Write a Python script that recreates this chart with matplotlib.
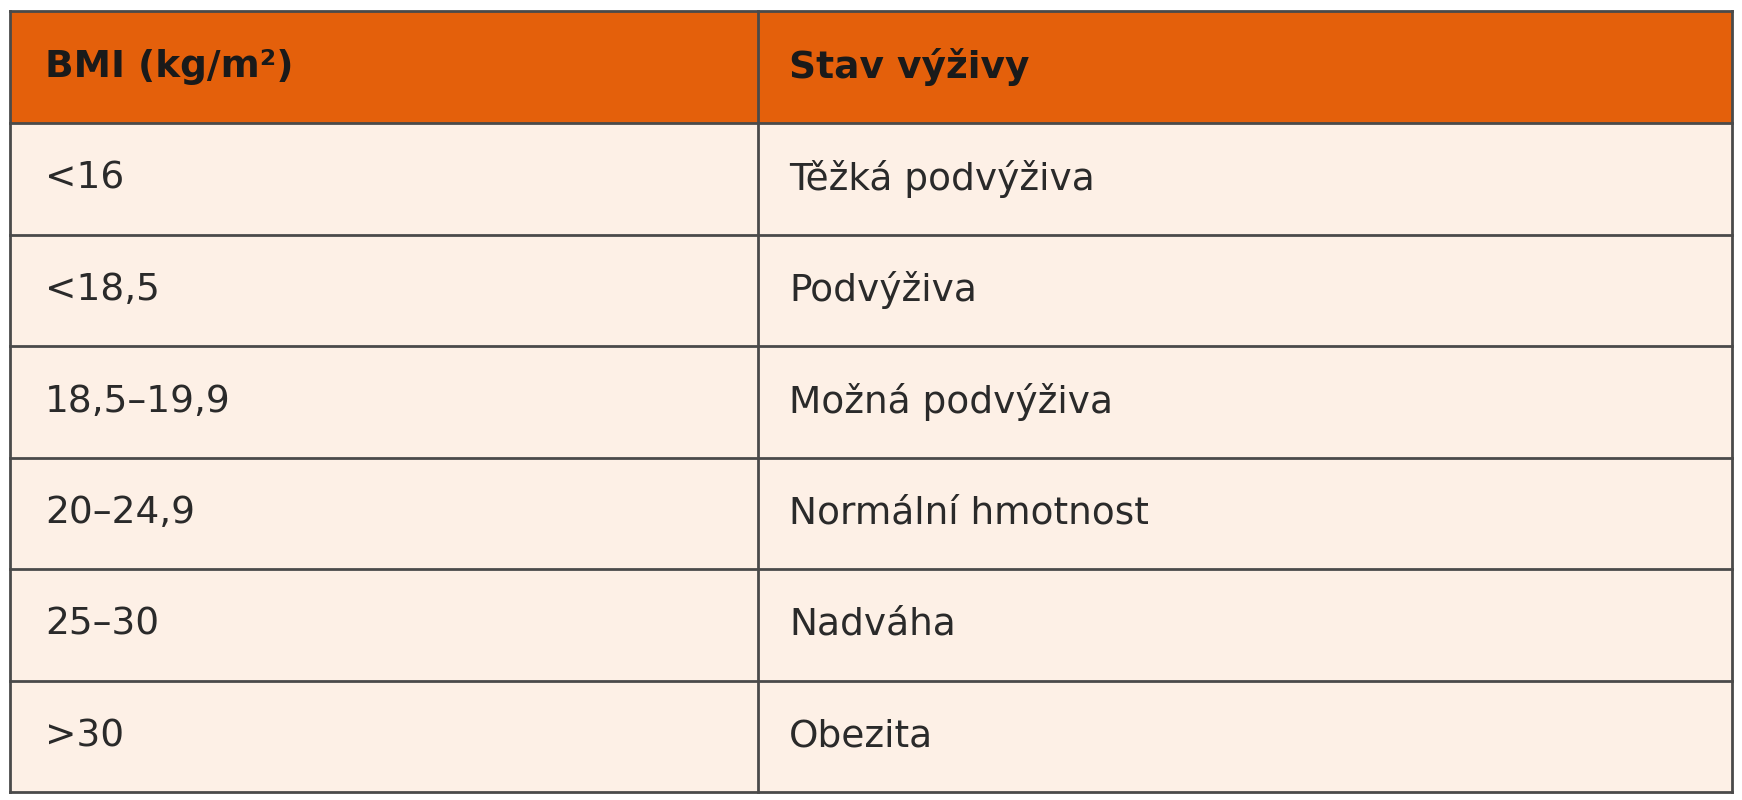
import matplotlib.pyplot as plt
from matplotlib.patches import Rectangle

headers = ['BMI (kg/m²)', 'Stav výživy']
bmi = ['<16', '<18,5', '18,5–19,9', '20–24,9', '25–30', '>30']
stav = ['Těžká podvýživa', 'Podvýživa', 'Možná podvýživa', 'Normální hmotnost', 'Nadváha', 'Obezita']

fig = plt.figure(figsize=(17.42, 8.0), dpi=100)
ax = fig.add_axes([0, 0, 1, 1])
ax.set_xlim(0, 1)
ax.set_ylim(1, 0)
ax.axis('off')

left, right, top, bottom = 0.006, 0.994, 0.014, 0.99
col = 0.435
head_bot = 0.154
row_h = (bottom - head_bot) / len(bmi)
edge = '#4a4a4a'

ax.add_patch(Rectangle((left, top), right - left, head_bot - top, facecolor='#E4600B', edgecolor='none'))
ax.add_patch(Rectangle((left, head_bot), right - left, bottom - head_bot, facecolor='#FDF0E6', edgecolor='none'))

ax.text(left + 0.02, (top + head_bot) / 2, headers[0], fontsize=27, fontweight='bold', va='center', color='#1a1a1a')
ax.text(col + 0.018, (top + head_bot) / 2, headers[1], fontsize=27, fontweight='bold', va='center', color='#1a1a1a')
for i, (b, s) in enumerate(zip(bmi, stav)):
    yc = head_bot + (i + 0.5) * row_h
    ax.text(left + 0.02, yc, b, fontsize=27, va='center', color='#2a2a2a')
    ax.text(col + 0.018, yc, s, fontsize=27, va='center', color='#2a2a2a')

# grid lines
for i in range(len(bmi) + 1):
    y = head_bot + i * row_h
    ax.plot([left, right], [y, y], color=edge, lw=2)
ax.plot([left, right], [top, top], color=edge, lw=2)
for x in (left, col, right):
    ax.plot([x, x], [top, bottom], color=edge, lw=2)

fig.savefig('out.png', dpi=100)
